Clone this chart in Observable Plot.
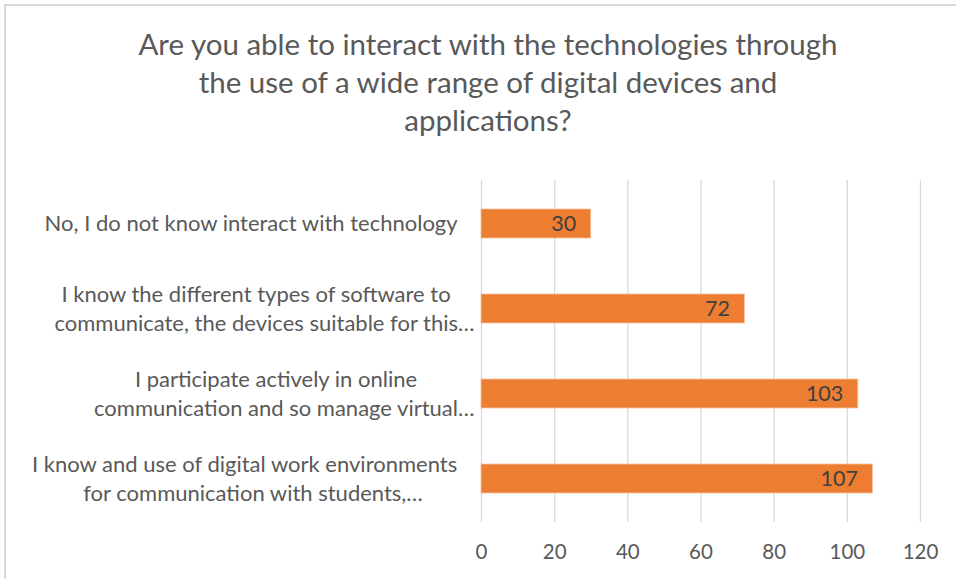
<!DOCTYPE html>
<html><head><meta charset="utf-8">
<script src="https://cdn.jsdelivr.net/npm/d3@7"></script>
<script src="https://cdn.jsdelivr.net/npm/@observablehq/plot@0.6"></script>
<style>
html,body{margin:0;padding:0;background:#fff;overflow:hidden;width:956px;height:579px;}
#frame{position:absolute;left:4px;top:4px;width:1000px;height:1000px;border-left:2px solid #d9d9d9;border-top:2px solid #d9d9d9;}
#title{position:absolute;left:10px;top:25px;width:956px;text-align:center;font-family:Lato, sans-serif;font-size:29.5px;line-height:38px;color:#595959;}
#chart{position:absolute;left:0;top:170px;}
</style></head><body>
<div id="frame"></div>
<div id="title">Are you able to interact with the technologies through<br>the use of a wide range of digital devices and<br>applications?</div>
<div id="chart"></div>
<script>
const categories = [
  "No, I do not know interact with technology",
  "I know the different types of software to communicate, the devices suitable for this…",
  "I participate actively in online communication and so manage virtual…",
  "I know and use of digital work environments for communication with students,…"
];
const categoryLines = [
  ["No, I do not know interact with technology"],
  ["I know the different types of software to", "communicate, the devices suitable for this…"],
  ["I participate actively in online", "communication and so manage virtual…"],
  ["I know and use of digital work environments", "for communication with students,…"]
];
const values = [30, 72, 103, 107];
const xTicks = [0, 20, 40, 60, 80, 100, 120];

const data = categories.map((c, i) => ({cat: c, value: values[i]}));

const FONT = "Lato";
const labelSize = 22;
const numSize = 21.5;
const tickSize = 20.5;
const marginLeft = 481;
const labelRight = 458;
const lineGap = 29;

const ctx = document.createElement("canvas").getContext("2d");
ctx.font = `${labelSize}px ${FONT}`;
const core = s => s.replace(/…$/, "");
const w = s => ctx.measureText(s).width;

const labelMarks = [];
categoryLines.forEach((lines, i) => {
  const W = d3.max(lines, l => w(core(l)));
  const center = labelRight - W / 2;
  lines.forEach((line, j) => {
    const left = center - w(core(line)) / 2;
    labelMarks.push(Plot.text([{cat: categories[i], t: line}], {
      y: "cat", text: "t", frameAnchor: "left", textAnchor: "start",
      dx: left - marginLeft, dy: (j - (lines.length - 1) / 2) * lineGap,
      fill: "#595959", fontSize: labelSize
    }));
  });
});

const chart = Plot.plot({
  width: 956, height: 409,
  marginLeft, marginRight: 36, marginTop: 10, marginBottom: 57,
  style: {fontFamily: FONT, background: "transparent", overflow: "visible"},
  x: {domain: [0, 120], ticks: xTicks, label: null},
  y: {domain: categories, paddingInner: 0.66, paddingOuter: 0.33, axis: null},
  marks: [
    Plot.gridX(xTicks, {stroke: "#d9d9d9", strokeOpacity: 1, strokeWidth: 1.3}),
    Plot.barX(data, {x: "value", y: "cat", fill: "#ED7D31", stroke: "#f6c3a0", strokeWidth: 0.8}),
    Plot.text(data, {x: "value", y: "cat", text: d => String(d.value), textAnchor: "end", dx: -15, fill: "#404040", fontSize: numSize}),
    Plot.axisX({ticks: xTicks, tickSize: 0, tickPadding: 22, fill: "#595959", fontSize: tickSize, label: null, tickFormat: d => String(d)}),
    ...labelMarks
  ]
});
document.getElementById("chart").appendChild(chart);
</script>
</body></html>
